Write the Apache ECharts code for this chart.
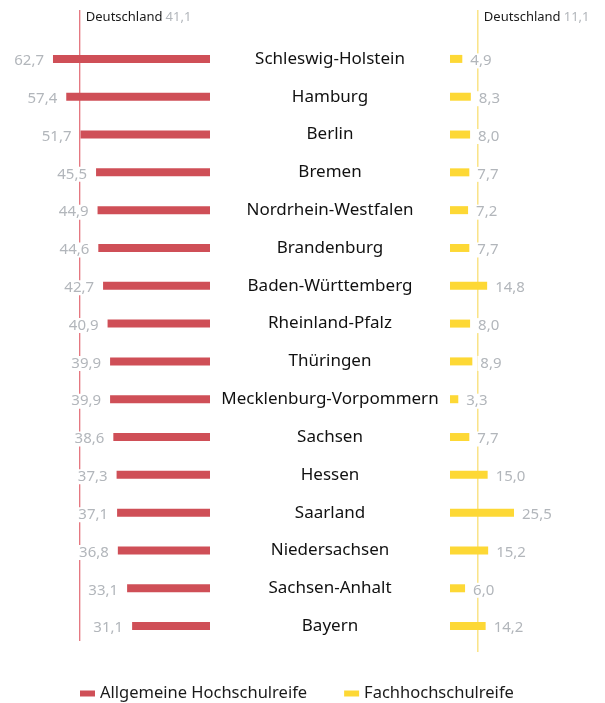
<!DOCTYPE html>
<html>
<head>
<meta charset="utf-8">
<script src="https://cdn.jsdelivr.net/npm/echarts@6/dist/echarts.min.js"></script>
<style>
  html, body { margin: 0; padding: 0; background: #fff; }
  #chart { width: 605px; height: 703px; }
</style>
</head>
<body>
<div id="chart"></div>
<script>
const states = ["Schleswig-Holstein", "Hamburg", "Berlin", "Bremen", "Nordrhein-Westfalen", "Brandenburg",
  "Baden-Württemberg", "Rheinland-Pfalz", "Thüringen", "Mecklenburg-Vorpommern", "Sachsen", "Hessen",
  "Saarland", "Niedersachsen", "Sachsen-Anhalt", "Bayern"];
const allgemein = [62.7, 57.4, 51.7, 45.5, 44.9, 44.6, 42.7, 40.9, 39.9, 39.9, 38.6, 37.3, 37.1, 36.8, 33.1, 31.1];
const fach = [4.9, 8.3, 8.0, 7.7, 7.2, 7.7, 14.8, 8.0, 8.9, 3.3, 7.7, 15.0, 25.5, 15.2, 6.0, 14.2];
const seriesNames = ["Allgemeine Hochschulreife", "Fachhochschulreife"];
const deutschland = [41.1, 11.1];
// position of the reference lines as drawn in the original graphic
const refLinePos = [52, 11.1];

const RED = "#cf4f57";
const YELLOW = "#fdd835";
const GREY = "#b2b6bb";
const FONT = "Noto Sans";

const fmt = v => v.toFixed(1).replace(".", ",");

let chart = echarts.init(document.getElementById("chart"));

function refLine(idx, pos, value, color) {
  return {
    type: "line",
    xAxisIndex: idx,
    yAxisIndex: idx,
    z: 1,
    silent: true,
    symbol: "circle",
    symbolSize: 0,
    lineStyle: { color: color, width: 1 },
    data: [
      {
        value: [pos, 1],
        label: {
          show: true,
          position: "right",
          distance: 6,
          offset: [0, 7],
          formatter: "{a|Deutschland} {b|" + fmt(value) + "}",
          rich: {
            a: { color: "#1a1a1a", fontSize: 13, fontFamily: FONT },
            b: { color: GREY, fontSize: 13, fontFamily: FONT }
          }
        }
      },
      [pos, 0]
    ]
  };
}

let option = {
  animation: false,
  textStyle: { fontFamily: FONT },
  legend: {
    data: seriesNames,
    left: 75,
    top: 680,
    itemWidth: 15,
    itemHeight: 6,
    itemGap: 37,
    icon: "rect",
    textStyle: { fontSize: 16.5, color: "#1a1a1a", fontFamily: FONT }
  },
  grid: [
    { left: 34.7, width: 175.3, top: 40, height: 605 },
    { left: 450, width: 100.4, top: 40, height: 605 },
    { left: 34.7, width: 175.3, top: 10, height: 631 },
    { left: 450, width: 100.4, top: 10, height: 642 }
  ],
  xAxis: [
    { gridIndex: 0, type: "value", min: 0, max: 70, inverse: true, show: false },
    { gridIndex: 1, type: "value", min: 0, max: 40, show: false },
    { gridIndex: 2, type: "value", min: 0, max: 70, inverse: true, show: false },
    { gridIndex: 3, type: "value", min: 0, max: 40, show: false }
  ],
  yAxis: [
    {
      gridIndex: 0, type: "category", data: states, inverse: true,
      axisLine: { show: false }, axisTick: { show: false }, axisLabel: { show: false }
    },
    {
      gridIndex: 1, type: "category", data: states, inverse: true,
      axisLine: { show: false }, axisTick: { show: false },
      axisLabel: {
        margin: 120,
        align: "center",
        fontSize: 17,
        color: "#111",
        fontFamily: FONT,
        padding: [0, 0, 5, 0]
      }
    },
    { gridIndex: 2, type: "value", min: 0, max: 1, show: false },
    { gridIndex: 3, type: "value", min: 0, max: 1, show: false }
  ],
  series: [
    refLine(2, refLinePos[0], deutschland[0], "#dc4a56"),
    refLine(3, refLinePos[1], deutschland[1], "#f7d54a"),
    {
      name: seriesNames[0],
      type: "bar",
      xAxisIndex: 0,
      yAxisIndex: 0,
      z: 2,
      barWidth: 8,
      data: allgemein,
      itemStyle: { color: RED },
      label: {
        show: true,
        position: "left",
        distance: 6,
        formatter: p => fmt(p.value),
        color: GREY,
        fontSize: 15,
        fontFamily: FONT,
        offset: [0, 2],
        backgroundColor: "#fff",
        padding: [0, 3]
      }
    },
    {
      name: seriesNames[1],
      type: "bar",
      xAxisIndex: 1,
      yAxisIndex: 1,
      z: 2,
      barWidth: 8,
      data: fach,
      itemStyle: { color: YELLOW },
      label: {
        show: true,
        position: "right",
        distance: 5,
        formatter: p => fmt(p.value),
        color: GREY,
        fontSize: 15,
        fontFamily: FONT,
        offset: [0, 2],
        backgroundColor: "#fff",
        padding: [0, 3]
      }
    }
  ]
};
chart.setOption(option);
</script>
</body>
</html>
